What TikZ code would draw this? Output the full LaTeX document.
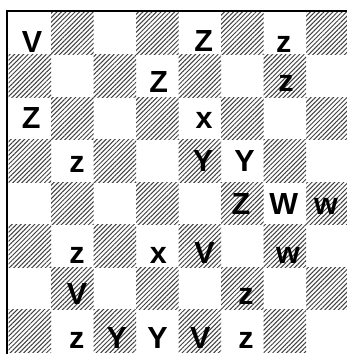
\documentclass[tikz,border=0pt]{standalone}
\usepackage{fontspec}
\newfontfamily\boardfont{Liberation Sans}
\usepackage{tikz}
\usetikzlibrary{patterns.meta}
\tikzset{
  hatch/.style={pattern={Lines[angle=45,distance=3.2pt,line width=1.0pt]},pattern color=black!75},
  piece/.style={anchor=base,inner sep=0pt,font=\boardfont\bfseries\fontsize{30.5}{30.5}\selectfont}
}

\begin{document}
\begin{tikzpicture}[x=1pt,y=-1pt,
  rim/.style={line width=2.5pt}
]
  \useasboundingbox (0,0) rectangle (347,354);
  \clip (0,0) rectangle (347,354);
  % hatched squares
  \foreach \r in {1,...,8}
    \foreach \c in {1,...,8}{
      \pgfmathtruncatemacro\odd{mod(\r+\c,2)}
      \ifnum\odd=1
        \fill[hatch] ({8.5+(\c-1)*42.5},{12+(\r-1)*42.5}) rectangle ++(42.5,42.5);
      \fi
    }
  \draw[rim] (7,360) -- (7,11) -- (360,11);
  % row 1
  \node[piece] (p11) at (32,52) {V};
  \node[piece] (p15) at (203.7,51.7) {Z};
  \node[piece] (p17) at (283.7,52) {z};
  % row 2
  \node[piece] (p24) at (158.7,92) {Z};
  \node[piece] (p27) at (286,91.7) {z};
  % row 3
  \node[piece] (p31) at (31.2,128) {Z};
  \node[piece] (p35) at (204,128.3) {x};
  % row 4
  \node[piece] (p42) at (77,172) {z};
  \node[piece] (p45) at (203,171.7) {Y};
  \node[piece] (p46) at (244.5,171.7) {Y};
  % row 5
  \node[piece] (p56) at (241,214.7) {Z};
  \node[piece] (p57) at (283.7,214.7) {W};
  \node[piece] (p58) at (326,214.7) {w};
  % row 6
  \node[piece] (p62) at (77,263.3) {z};
  \node[piece] (p64) at (158.3,263.3) {x};
  \node[piece] (p65) at (204.5,263.3) {V};
  \node[piece] (p67) at (288,263.3) {w};
  % row 7
  \node[piece] (p72) at (77,304.7) {V};
  \node[piece] (p76) at (246,304.7) {z};
  % row 8
  \node[piece] (p82) at (76.7,348.5) {z};
  \node[piece] (p83) at (116.7,348.5) {Y};
  \node[piece] (p84) at (157.5,348.5) {Y};
  \node[piece] (p85) at (200.3,348.5) {V};
  \node[piece] (p86) at (246,348.5) {z};
\end{tikzpicture}
\end{document}
